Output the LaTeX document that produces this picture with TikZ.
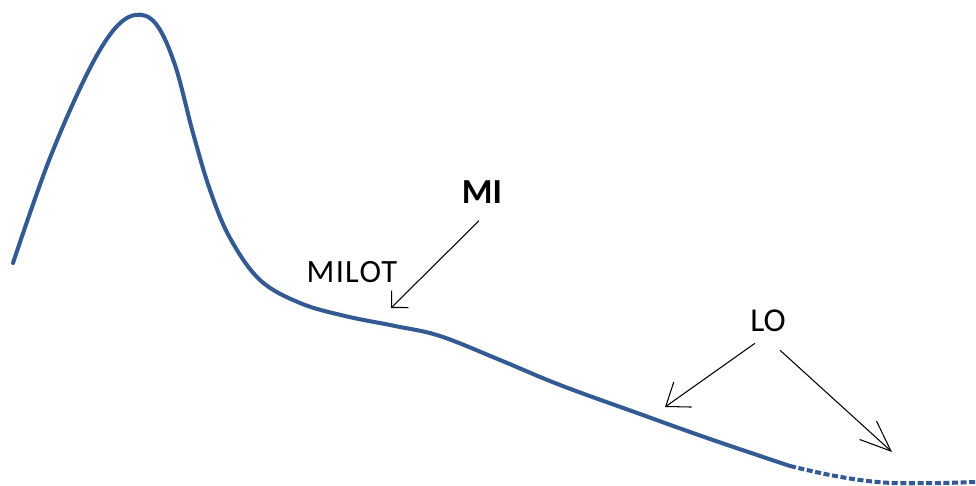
\documentclass[tikz,border=0pt]{standalone}
\usepackage{fontspec}
\setmainfont{Carlito}
\usepackage{tikz}
\usetikzlibrary{arrows.meta}
\definecolor{curveblue}{RGB}{52,90,148}
\tikzset{%
  curve/.style = {curveblue,line width=2.3pt,line join=round,line cap=round},
  tail/.style = {curve,dash pattern=on 3.4pt off 1.5pt,line cap=butt},
  pointer/.style = {draw=black,line width=0.6pt,-{Straight Barb[angle=#1]}},
  lbl/.style = {inner sep=0pt,text=black}
}

\begin{document}
\begin{tikzpicture}[x=0.02cm,y=-0.02cm]
    \useasboundingbox (0,0) rectangle (976,486);
    \draw[curve] plot[smooth,tension=0.6] coordinates {(13,263) (48,163)
        (84,80) (112,32) (135,15) (156,24) (175,65) (193,133) (210,190)
        (230,238) (260,280) (300,303) (345,316) (395,326) (440,336)
        (500,360) (560,385) (640,414) (710,439) (790,466)};
    \draw[tail] plot[smooth,tension=0.55] coordinates {(790,466) (825,474)
        (860,480) (893,483) (940,483) (976,482)};
    \node[lbl,font=\fontsize{20}{24}\selectfont\bfseries] (mi) at (482,192) {MI};
    \node[lbl,font=\fontsize{18.5}{22}\selectfont\addfontfeature{LetterSpace=4}] (milot) at (352,272) {MILOT};
    \node[lbl,font=\fontsize{19}{23}\selectfont] (lo) at (768,321) {LO};
    \coordinate (mitip) at (391,308);
    \coordinate (lotipa) at (665,407);
    \coordinate (lotipb) at (892,452);
    \draw[pointer={90:9.6pt}] ([xshift=-0.06cm,yshift=-0.34cm]mi.south) -- (mitip);
    \draw[pointer={73:14.7pt}] ([xshift=0.1cm,yshift=-0.22cm]lo.south west) -- (lotipa);
    \draw[pointer={44:19pt}] ([xshift=-0.12cm,yshift=-0.36cm]lo.south east) -- (lotipb);
\end{tikzpicture}
\end{document}
